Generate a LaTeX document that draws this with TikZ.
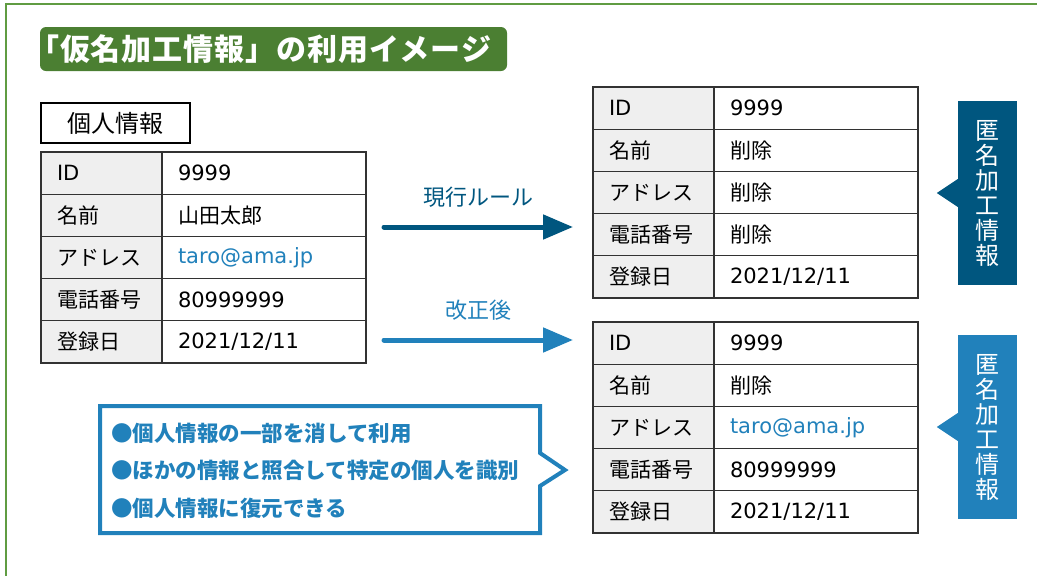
\documentclass[tikz,border=0pt]{standalone}
\usepackage{fontspec}
\setmainfont{Noto Sans CJK JP}
\newfontfamily\lat{DejaVu Sans}
\usetikzlibrary{arrows.meta}
\definecolor{framegreen}{RGB}{96,156,66}
\definecolor{titlegreen}{RGB}{75,127,50}
\definecolor{darkblue}{RGB}{0,86,127}
\definecolor{lightblue}{RGB}{33,129,187}
\definecolor{cellgray}{RGB}{239,239,239}
\definecolor{tabline}{RGB}{50,50,50}
\tikzset{
  keycell/.style={draw=tabline, line width=1.2pt, fill=cellgray, anchor=north west, outer sep=0pt,
    minimum height=42.2pt, text width=89pt, inner xsep=16pt, inner ysep=0pt, align=left,
    font=\fontsize{21}{21}\selectfont},
  valcell/.style={keycell, fill=white, text width=172pt},
  flowarrow/.style={line width=5pt, line cap=round, -{Triangle[length=30pt,width=24pt]}},
  arrowlabel/.style={font=\fontsize{22}{22}\selectfont, inner sep=0pt},
  sidelabel/.style={minimum width=59pt, minimum height=184pt, inner sep=0pt, text=white,
    align=center, font=\fontsize{24}{25}\selectfont},
  memoline/.style={anchor=west, inner sep=0pt, text=lightblue, font=\fontsize{21.5}{21.5}\selectfont\bfseries},
}
\newcommand\datatable[6]{%
  \node[keycell] (#1k1) at (#2,#3) {{\lat ID}};
  \node[valcell] (#1v1) at (#1k1.north east) {{\lat 9999}};
  \node[keycell] (#1k2) at (#1k1.south west) {名前};
  \node[valcell] (#1v2) at (#1k2.north east) {#4};
  \node[keycell] (#1k3) at (#1k2.south west) {アドレス};
  \node[valcell] (#1v3) at (#1k3.north east) {#5};
  \node[keycell] (#1k4) at (#1k3.south west) {電話番号};
  \node[valcell] (#1v4) at (#1k4.north east) {#6};
  \node[keycell] (#1k5) at (#1k4.south west) {登録日};
  \node[valcell] (#1v5) at (#1k5.north east) {{\lat 2021/12/11}};
}
\begin{document}
\begin{tikzpicture}[x=1pt,y=-1pt]
\useasboundingbox (0,0) rectangle (1037,576);
% frame
\draw[framegreen, line width=1.5pt] (6,580) -- (6,4) -- (1040,4);
% title
\node[fill=titlegreen, rounded corners=6pt, minimum width=467pt, minimum height=44pt, inner sep=0pt] (titlebox) at (273.5,49) {};
\node[anchor=west, inner sep=0pt, text=white, font=\fontsize{30}{30}\selectfont\bfseries\addfontfeatures{LetterSpace=3}] (titletext) at (29,49) {「仮名加工情報」の利用イメージ};
% personal info label
\node[draw=black, line width=2pt, minimum width=149pt, minimum height=40pt, inner sep=0pt, font=\fontsize{24}{24}\selectfont] (pinfo) at (115.5,123) {個人情報};
% tables
\datatable{L}{41}{152}{山田太郎}{\textcolor{lightblue}{\lat taro@ama.jp}}{{\lat 80999999}}
\datatable{U}{593}{87}{削除}{削除}{削除}
\datatable{D}{593}{322}{削除}{\textcolor{lightblue}{\lat taro@ama.jp}}{{\lat 80999999}}
% arrows
\coordinate (a1s) at (384,227);
\coordinate (a1e) at (573,227);
\coordinate (a2s) at (384,340);
\coordinate (a2e) at (573,340);
\draw[flowarrow, darkblue] (a1s) -- (a1e);
\draw[flowarrow, lightblue] (a2s) -- (a2e);
\node[arrowlabel, text=darkblue] (lab1) at (478,197) {現行ルール};
\node[arrowlabel, text=lightblue] (lab2) at (478,310) {改正後};
% side labels
\node[sidelabel, fill=darkblue] (anon1) at (987.5,193) {匿\\名\\加\\工\\情\\報};
\fill[darkblue] ([yshift=14pt]anon1.west) -- ([xshift=-21pt]anon1.west) -- ([yshift=-14pt]anon1.west) -- cycle;
\node[sidelabel, fill=lightblue] (anon2) at (987.5,427) {匿\\名\\加\\工\\情\\報};
\fill[lightblue] ([yshift=14pt]anon2.west) -- ([xshift=-21pt]anon2.west) -- ([yshift=-14pt]anon2.west) -- cycle;
% callout
\draw[lightblue, line width=4pt, fill=white] (100,406) -- (540,406) -- (540,453) -- (565,470) -- (540,486) -- (540,533) -- (100,533) -- cycle;
\node[memoline] (m1) at (111,433) {●個人情報の一部を消して利用};
\node[memoline] (m2) at (111,470) {●ほかの情報と照合して特定の個人を識別};
\node[memoline] (m3) at (111,508) {●個人情報に復元できる};
\end{tikzpicture}
\end{document}
